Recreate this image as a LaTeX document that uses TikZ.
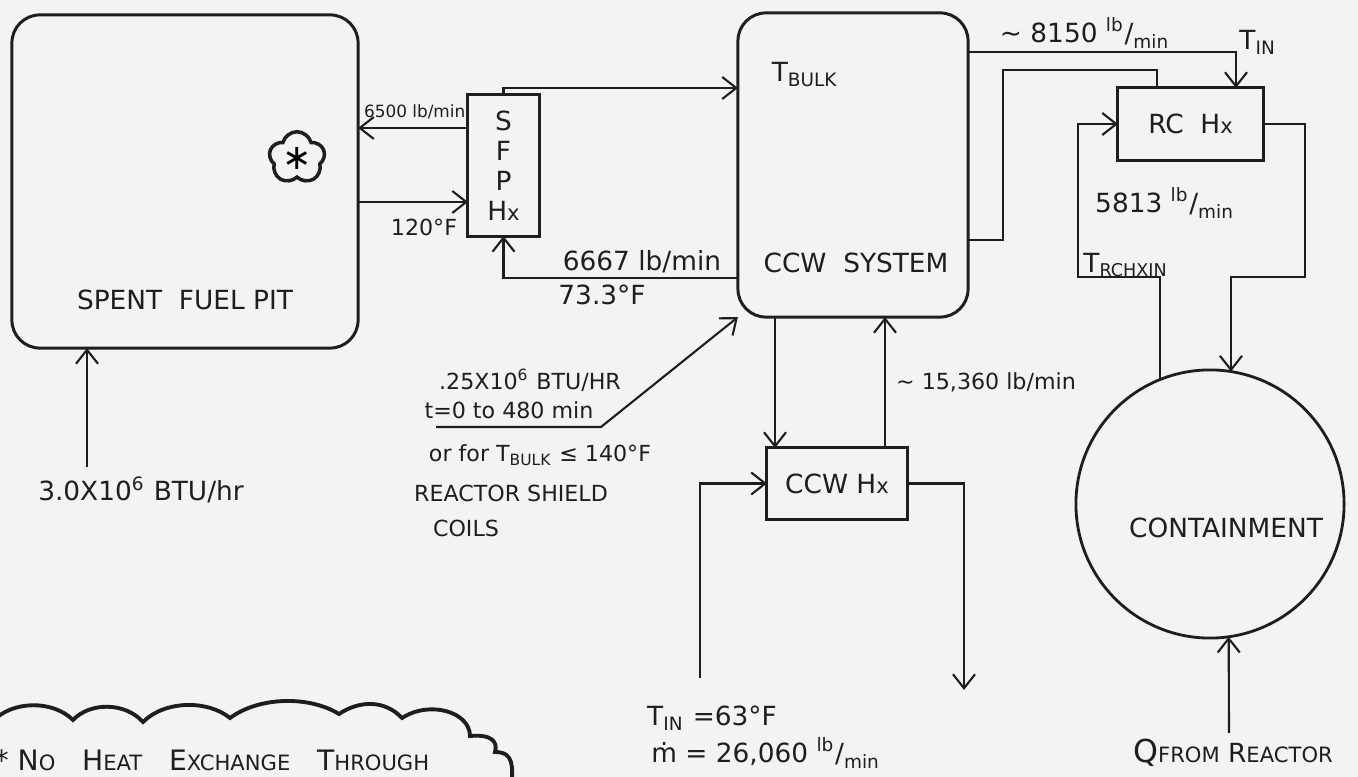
\documentclass[tikz,border=0pt]{standalone}
\usepackage{fontspec}
\setmainfont{DejaVu Sans}
\usepackage{xcolor}
\usetikzlibrary{arrows.meta, shapes.symbols}
\definecolor{ink}{HTML}{1E1E1E}
\definecolor{paper}{HTML}{F3F3F1}
\newcommand{\sml}[1]{{\fontsize{6}{7}\selectfont #1}}
\newcommand{\lbmin}{\textsuperscript{lb}/\textsubscript{min}}
\tikzset{
    box/.style={rectangle, draw=ink, line width=0.85pt, inner sep=0pt,
                outer sep=0pt, align=center, text=ink,
                font=\fontsize{7.5}{8.5}\selectfont},
    rbox/.style={box, rounded corners=0.28cm},
    lbl/.style={inner sep=0pt, text=ink, font=\fontsize{7.5}{9}\selectfont},
    tiny/.style={lbl, font=\fontsize{6.3}{8}\selectfont},
    arr/.style={-{Straight Barb[length=1.4mm,width=2.2mm]}, line width=0.6pt,
                draw=ink},
    ln/.style={line width=0.6pt, draw=ink}
}

\begin{document}
\begin{tikzpicture}[x=0.01cm, y=-0.01cm]
\fill[paper] (0,0) rectangle (1358,777);
\useasboundingbox (0,0) rectangle (1358,777);

% ── Spent fuel pit ────────────────────────────────────────────────────
\node[rbox, minimum width=3.46cm, minimum height=3.33cm] at (185,181.5) (pit) {};
\node[cloud, cloud puffs=5, draw=ink, line width=1pt, minimum width=0.56cm,
      minimum height=0.51cm, inner sep=0pt] at (297,158) (fuel) {\textasteriskcentered};
\node[lbl] at (185,300) (pitname) {SPENT\ \ FUEL\ PIT};
\node[lbl] at (141,490) (pitq) {3.0X10\textsuperscript{6} BTU/hr};

% ── SFP heat exchanger ────────────────────────────────────────────────
\node[box, minimum width=0.71cm, minimum height=1.41cm] at (503.5,165.5) (sfphx) {S\\F\\P\\H\sml{x}};
\node[tiny, font=\fontsize{4.8}{6}\selectfont, anchor=east] at (466,112) (sfpflow) {6500 lb/min};
\node[tiny] at (424,227) (sfpout) {120°F};
\node[lbl] at (642,262) (sfpret) {6667 lb/min};
\node[lbl] at (602,295) (sfpt) {73.3°F};

% ── Reactor shield coils ──────────────────────────────────────────────
\node[tiny] at (530,380) (shq) {.25X10\textsuperscript{6} BTU/HR};
\node[tiny] at (509,410) (sht) {t=0 to 480 min};
\node[tiny] at (540,455) (shalt) {or for T\textsubscript{BULK} ≤ 140°F};
\node[tiny] at (511,493) (shname) {REACTOR SHIELD};
\node[tiny] at (466,528) (shcoil) {COILS};

% ── CCW system ────────────────────────────────────────────────────────
\node[rbox, minimum width=2.30cm, minimum height=3.04cm] at (853,165) (ccw) {};
\node[lbl] at (805,75) (tbulk) {T\textsubscript{BULK}};
\node[lbl] at (856,263) (ccwname) {CCW\ \ SYSTEM};
\node[box, minimum width=1.40cm, minimum height=0.71cm] at (837,483.5) (ccwhx) {CCW H\sml{x}};
\node[tiny] at (986,382) (ccwflow) {∼ 15,360 lb/min};
\node[lbl] at (712,718) (twin) {T\textsubscript{IN} =63°F};
\node[lbl] at (766,753) (mdot) {ṁ = 26,060 \lbmin};

% ── RC heat exchanger + containment ──────────────────────────────────
\node[box, minimum width=1.45cm, minimum height=0.72cm] at (1190.5,124) (rchx) {RC\ \ H\sml{x}};
\node[lbl] at (1085,33) (rcflow) {∼ 8150 \lbmin};
\node[lbl] at (1258,42) (tin) {T\textsubscript{IN}};
\node[lbl] at (1165,203) (rcret) {5813 \lbmin};
\node[lbl] at (1126,265) (trchx) {T\textsubscript{\tiny RCHXIN}};
\node[circle, draw=ink, line width=0.8pt, minimum size=2.68cm, inner sep=0pt,
      outer sep=0pt] at (1210,504) (cont) {};
\node[lbl] at (1226,528) (contname) {CONTAINMENT};
\node[lbl] at (1233,753) (qrx) {{\fontsize{9}{9}\selectfont Q}\sml{FROM} R\sml{EACTOR}};

% ── Note ──────────────────────────────────────────────────────────────
\draw[ink, line width=1.1pt] (-8,722) .. controls (12,700) and (53,700) .. (73,720)
  .. controls (90,702) and (125,702) .. (143,722)
  .. controls (165,700) and (208,700) .. (230,718)
  .. controls (260,696) and (310,696) .. (339,714)
  .. controls (360,700) and (385,700) .. (402,718)
  .. controls (430,700) and (470,712) .. (470,736)
  .. controls (492,734) and (498,742) .. (495,752)
  .. controls (515,752) and (512,768) .. (512,785);
\node[lbl, font=\fontsize{8}{9}\selectfont, anchor=west] at (-6,760) (note)
  {* N\sml{O}\ \ \ H\sml{EAT}\ \ \ E\sml{XCHANGE}\ \ \ T\sml{HROUGH}};

% ── Connectors ────────────────────────────────────────────────────────
\draw[arr] (sfphx.west |- 0,128) -- (pit.east |- 0,128);
\draw[arr] (pit.east |- 0,202) -- (sfphx.west |- 0,202);
\draw[arr] (sfphx.north) |- (ccw.west |- 0,88);
\draw[arr] (ccw.west |- 0,278) -| (sfphx.south);

\coordinate (shield) at (436,427);
\draw[arr] (shield) -- (601,427) -- (ccw.south west);

\draw[arr] (ccw.south -| 775,0) -- (ccwhx.north -| 775,0);
\draw[arr] (ccwhx.north -| 885,0) -- (ccw.south -| 885,0);
\coordinate (cwin) at (700,678);
\coordinate (cwout) at (964,690);
\draw[arr] (cwin) |- (ccwhx.west);
\draw[arr] (ccwhx.east) -| (cwout);

\draw[arr] (ccw.east |- 0,52) -| (rchx.north -| 1236,0);
\draw[ln] (ccw.east |- 0,240) -| (1003,70) -| (rchx.north -| 1157,0);
\draw[arr] (cont.112) |- (1078,277) |- (rchx.west);
\draw[arr] (rchx.east) -| (1305,277) -| (cont.81);

\coordinate (qin) at (1229,733);
\draw[arr] (qin) -- (cont.-82);
\coordinate (pitin) at (87,467);
\draw[arr] (pitin) -- (pitin |- pit.south);
\end{tikzpicture}
\end{document}
